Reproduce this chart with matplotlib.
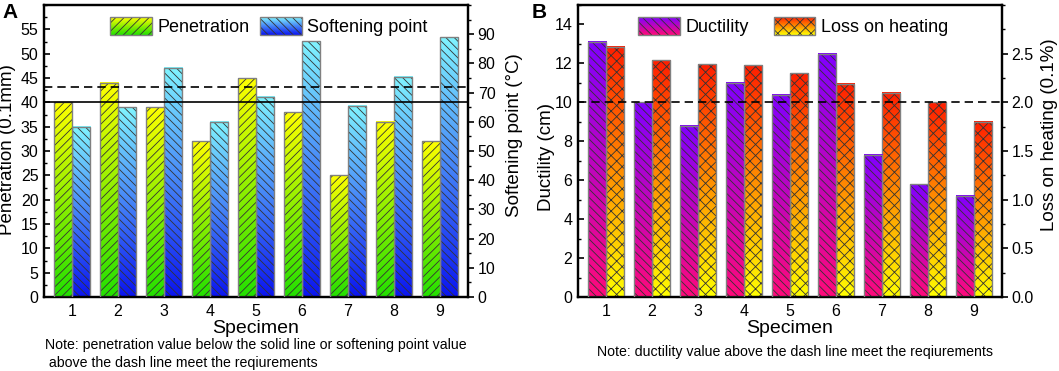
import numpy as np
import matplotlib
matplotlib.use("Agg")
import matplotlib.pyplot as plt
from matplotlib.colors import LinearSegmentedColormap, Normalize
from matplotlib.patches import Rectangle
from matplotlib.image import BboxImage
from matplotlib.transforms import Bbox, TransformedBbox, blended_transform_factory
from matplotlib.legend_handler import HandlerBase
from matplotlib.ticker import AutoMinorLocator, FormatStrFormatter

plt.rcParams['font.family'] = ['Liberation Sans', 'DejaVu Sans']
plt.rcParams['hatch.linewidth'] = 0.6

# data
specimen = [1, 2, 3, 4, 5, 6, 7, 8, 9]
penetration = [40, 44, 39, 32, 45, 38, 25, 36, 32]
softening = [58.3, 65, 78.5, 60, 68.5, 87.5, 65.5, 75.5, 89]
ductility = [13.1, 10.0, 8.8, 11.0, 10.4, 12.5, 7.3, 5.8, 5.2]
loss_heating = [2.57, 2.43, 2.39, 2.38, 2.30, 2.19, 2.10, 2.00, 1.80]

pen_limit = 40      # solid line, left axis
soft_limit = 72     # dashed line, right axis
duct_limit = 10     # dashed line, left axis

# colours: (bottom, top)
pen_cols = ('#22e000', '#ffff00')
soft_cols = ('#0a14f0', '#80f4ff')
duct_cols = ('#ff0a7a', '#8000ff')
loss_cols = ('#ffff00', '#ff1e00')

W = 0.4
HATCH_C = '#333333'
EDGE_C = '#808080'
TICK_FS = 11.5
LABEL_FS = 13.5
NOTE_FS = 10.2


def cmap_of(cols):
    return LinearSegmentedColormap.from_list('', list(cols))


def grad_bars(ax, xs, hs, cols, hatch):
    cm = cmap_of(cols)
    grad = np.linspace(0, 1, 256).reshape(-1, 1)
    for x, h in zip(xs, hs):
        ax.imshow(grad, cmap=cm, origin='lower', aspect='auto',
                  extent=(x - W / 2, x + W / 2, 0, h), zorder=1)
    ax.bar(xs, hs, W, facecolor='none', edgecolor=HATCH_C, hatch=hatch,
           linewidth=0, zorder=2)
    ax.bar(xs, hs, W, fill=False, edgecolor=EDGE_C, linewidth=1.0, zorder=3)


class GradHandler(HandlerBase):
    def __init__(self, cols, hatch):
        super().__init__()
        self.cols = cols
        self.hatch = hatch

    def create_artists(self, legend, orig_handle, xdescent, ydescent,
                       width, height, fontsize, trans):
        bb = TransformedBbox(Bbox.from_bounds(-xdescent, -ydescent, width, height), trans)
        img = BboxImage(bb, cmap=cmap_of(self.cols), norm=Normalize(0, 1),
                        interpolation='bilinear', origin='lower')
        img.set_data(np.linspace(0, 1, 64).reshape(-1, 1))
        r1 = Rectangle((-xdescent, -ydescent), width, height, facecolor='none',
                       edgecolor=HATCH_C, hatch=self.hatch, linewidth=0, transform=trans)
        r2 = Rectangle((-xdescent, -ydescent), width, height, fill=False,
                       edgecolor=EDGE_C, linewidth=1.0, transform=trans)
        return [img, r1, r2]


def style_axes(ax, ax2):
    for a in (ax, ax2):
        for s in a.spines.values():
            s.set_linewidth(1.6)
    ax.tick_params(axis='y', direction='in', length=4, width=1.2, labelsize=TICK_FS, pad=4)
    ax.tick_params(axis='y', which='minor', direction='in', length=2.5, width=1.0)
    ax.tick_params(axis='x', length=0, labelsize=TICK_FS, pad=5)
    ax2.tick_params(axis='y', direction='out', length=4, width=1.2, labelsize=TICK_FS, pad=3)
    ax2.tick_params(axis='y', which='minor', direction='out', length=2.5, width=1.0)
    ax.yaxis.set_minor_locator(AutoMinorLocator(2))
    ax2.yaxis.set_minor_locator(AutoMinorLocator(2))
    ax.set_xticks(specimen)
    ax.set_xlim(0.39, 9.61)
    ax.set_xlabel('Specimen', fontsize=14, labelpad=1)
    ax.set_zorder(ax2.get_zorder() + 1)
    ax.patch.set_visible(False)


fig = plt.figure(figsize=(10.59, 3.71), dpi=100)
axA = fig.add_axes([44 / 1059, 74 / 371, 424 / 1059, 292 / 371])
axA2 = axA.twinx()
axB = fig.add_axes([578 / 1059, 74 / 371, 424 / 1059, 292 / 371])
axB2 = axB.twinx()

x = np.array(specimen)

# Panel A
grad_bars(axA, x - W / 2, penetration, pen_cols, '////')
grad_bars(axA2, x + W / 2, softening, soft_cols, '\\\\\\\\')
axA.axhline(pen_limit, color='black', linewidth=1.2, zorder=5)
axA.plot([0, 1], [soft_limit, soft_limit], color='black', linewidth=1.2,
         dashes=(5, 3), zorder=5,
         transform=blended_transform_factory(axA.transAxes, axA2.transData))
axA.set_ylim(0, 60)
axA.set_yticks(np.arange(0, 56, 5))
axA2.set_ylim(0, 100)
axA2.set_yticks(np.arange(0, 91, 10))
style_axes(axA, axA2)
axA.set_ylabel('Penetration (0.1mm)', fontsize=LABEL_FS)
axA.yaxis.set_label_coords(-0.066, 0.505)
axA2.set_ylabel('Softening point (\u00b0C)', fontsize=LABEL_FS)
axA2.yaxis.set_label_coords(1.09, 0.555)

pA = Rectangle((0, 0), 1, 1)
sA = Rectangle((0, 0), 1, 1)
axA.legend([pA, sA], ['Penetration', 'Softening point'],
           handler_map={pA: GradHandler(pen_cols, '////'),
                        sA: GradHandler(soft_cols, '\\\\\\\\')},
           ncol=2, frameon=False, fontsize=13, loc='center',
           bbox_to_anchor=(0.53, 0.925), handlelength=2.3, handleheight=1.1,
           handletextpad=0.3, columnspacing=0.6)

# Panel B
grad_bars(axB, x - W / 2, ductility, duct_cols, '\\\\\\\\')
grad_bars(axB2, x + W / 2, loss_heating, loss_cols, 'xxx')
axB.axhline(duct_limit, color='black', linewidth=1.2, dashes=(5, 3), zorder=5)
axB.set_ylim(0, 15)
axB.set_yticks(np.arange(0, 15, 2))
axB2.set_ylim(0, 3)
axB2.set_yticks(np.arange(0, 2.6, 0.5))
axB2.yaxis.set_major_formatter(FormatStrFormatter('%.1f'))
style_axes(axB, axB2)
axB.set_ylabel('Ductility (cm)', fontsize=LABEL_FS)
axB.yaxis.set_label_coords(-0.055, 0.48)
axB2.set_ylabel('Loss on heating (0.1%)', fontsize=LABEL_FS)
axB2.yaxis.set_label_coords(1.092, 0.555)

dB = Rectangle((0, 0), 1, 1)
lB = Rectangle((0, 0), 1, 1)
axB.legend([dB, lB], ['Ductility', 'Loss on heating'],
           handler_map={dB: GradHandler(duct_cols, '\\\\\\\\'),
                        lB: GradHandler(loss_cols, 'xxx')},
           ncol=2, frameon=False, fontsize=13, loc='center',
           bbox_to_anchor=(0.507, 0.925), handlelength=2.3, handleheight=1.1,
           handletextpad=0.3, columnspacing=1.4)

# panel letters and notes
fig.text(2 / 1059, 1 - 12 / 371, 'A', fontsize=15, fontweight='bold', va='center')
fig.text(532 / 1059, 1 - 12 / 371, 'B', fontsize=15, fontweight='bold', va='center')
fig.text(45 / 1059, 1 - 338 / 371,
         'Note: penetration value below the solid line or softening point value\n'
         ' above the dash line meet the reqiurements',
         fontsize=NOTE_FS, va='top', linespacing=1.35)
fig.text(795 / 1059, 1 - 352 / 371,
         'Note: ductility value above the dash line meet the reqiurements',
         fontsize=NOTE_FS, va='center', ha='center')

fig.savefig('out.png', dpi=100)
